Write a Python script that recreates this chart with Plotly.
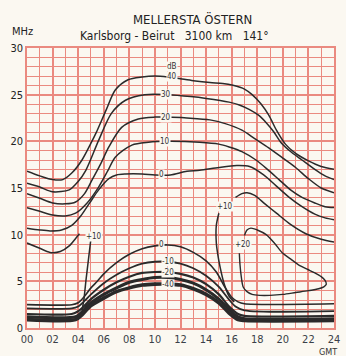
import plotly.graph_objects as go

# ---------------- data ----------------
x_tick_vals = [0, 2, 4, 6, 8, 10, 12, 14, 16, 18, 20, 22, 24]
x_tick_text = ["00", "02", "04", "06", "08", "10", "12", "14", "16", "18", "20", "22", "24"]
y_tick_vals = [0, 5, 10, 15, 20, 25, 30]
y_tick_text = ["0", "5", "10", "15", "20", "25", "30"]

# upper family (dB)
h_up40 = [0, 1, 2, 2.8, 3.5, 4.3, 5, 5.4, 6.2, 6.9, 7.9, 9, 10, 11, 12, 13, 14.3, 15.3, 16.1, 17, 17.6, 18.3, 18.9, 19.5, 20.2, 21, 22, 23, 24]
f_up40 = [16.8, 16.3, 15.9, 15.9, 16.6, 18.0, 19.8, 20.9, 23.4, 25.5, 26.6, 26.9, 27.0, 26.9, 26.7, 26.5, 26.3, 26.2, 26.0, 25.6, 25.0, 24.0, 22.8, 21.2, 19.7, 18.7, 17.9, 17.3, 17.0]

h_up30 = [0, 1, 2, 3.3, 4, 4.6, 5.6, 6.6, 7.7, 9.2, 11, 12.8, 14, 15.8, 16.6, 17.4, 18.1, 18.7, 19.3, 19.9, 20.7, 21.5, 22.5, 23.3, 24]
f_up30 = [15.5, 15.1, 14.6, 14.8, 15.7, 16.9, 20.1, 23.0, 24.4, 25.0, 25.0, 24.8, 24.6, 24.2, 23.9, 23.4, 22.8, 22.0, 21.0, 19.8, 18.8, 18.0, 17.0, 16.3, 15.9]

h_up20 = [0, 1, 2, 3, 3.8, 4.5, 5.1, 5.8, 6.4, 7.4, 8.7, 10, 11, 12.5, 14.3, 15.5, 16.8, 17.8, 18.9, 20, 21, 22, 23, 24]
f_up20 = [14.4, 13.9, 13.4, 13.3, 13.5, 14.4, 15.9, 17.7, 19.4, 21.5, 22.4, 22.6, 22.6, 22.5, 22.3, 21.9, 21.2, 20.3, 19.3, 18.2, 17.2, 16.0, 15.0, 14.5]

h_up10 = [0, 1, 2, 3, 3.8, 4.7, 5.6, 6.3, 6.9, 8.2, 9.5, 11, 13.5, 15, 15.8, 16.8, 17.9, 18.8, 19.7, 20.6, 21.5, 22.5, 23.3, 24]
f_up10 = [12.9, 12.5, 12.1, 12.0, 12.3, 13.4, 15.1, 16.8, 18.3, 19.6, 19.9, 20.0, 19.9, 19.7, 19.4, 18.9, 18.0, 17.0, 15.9, 14.8, 14.0, 13.4, 13.0, 12.9]

h_up0 = [0, 1, 1.8, 2.7, 3.5, 4.2, 4.9, 5.6, 6.4, 7.0, 7.7, 9, 10, 11.2, 12.5, 13.5, 15, 16.4, 17.4, 18.5, 19.5, 20.5, 21.5, 22.5, 23.3, 24]
f_up0 = [10.7, 10.5, 10.4, 10.5, 11.0, 12.0, 13.4, 14.8, 16.0, 16.4, 16.5, 16.5, 16.4, 16.4, 16.8, 16.9, 17.2, 17.4, 17.3, 16.4, 15.2, 14.0, 13.0, 12.2, 11.8, 11.6]

# +10 contour (pieces)
h_p10_a = [0, 0.9, 1.8, 2.6, 3.3, 3.8, 4.1]
f_p10_a = [9.1, 8.6, 8.1, 8.2, 8.8, 9.6, 10.1]
h_p10_b = [5.0, 4.8, 4.6, 4.45, 4.3]
f_p10_b = [9.6, 7.5, 5.0, 3.0, 1.9]
h_p10_c = [16.2, 15.8, 15.4, 15.1, 14.9, 14.8, 14.8, 15.0]
f_p10_c = [2.8, 3.4, 4.8, 6.5, 8.0, 9.1, 11.0, 12.3]
h_p10_d = [16.3, 16.8, 17.2, 17.8, 18.6, 19.5, 20.6, 21.8, 23, 24]
f_p10_d = [14.0, 14.4, 14.5, 14.2, 13.3, 12.3, 11.1, 10.1, 9.5, 9.2]

# +20 loop
h_p20 = [17.0, 17.2, 17.5, 18.0, 18.7, 19.4, 20.0, 20.6, 21.2, 21.9, 22.5, 23.0, 23.3, 23.4, 23.2, 22.8, 22.0, 21.0, 20.0, 19.0, 18.2, 17.6, 17.2, 16.9, 16.75, 16.65, 16.6]
f_p20 = [9.9, 10.5, 10.7, 10.5, 10.0, 9.0, 8.0, 7.4, 6.8, 6.3, 5.9, 5.5, 5.1, 4.7, 4.4, 4.2, 4.0, 3.8, 3.6, 3.5, 3.5, 3.6, 3.9, 4.4, 5.5, 6.8, 8.0]

# lower family
h_lo0 = [0, 3.5, 4.0, 4.5, 5, 5.5, 6, 7, 8, 9, 10, 11, 12, 13, 14, 14.8, 15.5, 16, 16.5, 17, 24]
f_lo0 = [2.5, 2.5, 2.7, 3.4, 4.3, 5.0, 5.8, 7.0, 7.9, 8.5, 8.8, 8.9, 8.7, 8.1, 7.2, 6.0, 4.3, 3.3, 2.8, 2.6, 2.6]
h_lo10 = [0, 3.5, 4, 4.5, 5, 6, 7, 8, 9, 10, 11, 12, 13, 14, 15, 15.7, 16.3, 17, 24]
f_lo10 = [2.1, 2.1, 2.3, 2.9, 3.6, 4.8, 5.7, 6.4, 6.9, 7.1, 7.1, 6.9, 6.4, 5.6, 4.4, 3.2, 2.3, 1.9, 1.8]
h_lo20 = [0, 3.5, 4, 4.5, 5, 6, 7, 8, 9, 10, 11, 12, 13, 14, 15, 15.8, 16.5, 17, 24]
f_lo20 = [1.5, 1.5, 1.8, 2.4, 3.1, 4.1, 4.9, 5.5, 5.9, 6.0, 6.0, 5.8, 5.4, 4.7, 3.6, 2.3, 1.5, 1.3, 1.3]
h_lo30 = [0, 3.8, 4.2, 4.6, 5, 6, 7, 8, 9, 10, 11, 12, 13, 14, 15, 15.8, 16.5, 17, 24]
f_lo30 = [1.2, 1.2, 1.6, 2.2, 2.7, 3.6, 4.3, 4.9, 5.2, 5.4, 5.4, 5.2, 4.8, 4.1, 3.1, 2.0, 1.2, 1.0, 1.0]
h_lo40 = [0, 3.8, 4.3, 4.7, 5, 6, 7, 8, 9, 10, 11, 12, 13, 14, 15, 15.8, 16.5, 17, 24]
f_lo40 = [0.9, 0.9, 1.4, 2.0, 2.4, 3.2, 3.9, 4.3, 4.6, 4.7, 4.7, 4.6, 4.2, 3.6, 2.7, 1.6, 0.9, 0.8, 0.8]

# curve labels: text, hour, MHz
label_text = ["40", "30", "20", "10", "0", "0", "-10", "-20", "-40", "+10", "+10", "+20"]
label_h = [11.3, 10.85, 10.85, 10.8, 10.5, 10.5, 11.0, 11.0, 11.0, 5.2, 15.45, 16.9]
label_f = [26.9, 25.0, 22.6, 19.95, 16.4, 8.9, 7.1, 6.0, 4.7, 9.8, 13.05, 8.9]

# ---------------- figure ----------------
BG = "#fbf8f1"
GRID = "#ea8a80"
INK = "#2a2a2a"
FONT = "DejaVu Sans Condensed, Liberation Sans Narrow, Arial Narrow, sans-serif"

fig = go.Figure()

def add_curve(h, f, width=1.5, shape="spline"):
    fig.add_trace(go.Scatter(x=h, y=f, mode="lines",
                             line=dict(color=INK, width=width, shape=shape, smoothing=0.8),
                             hoverinfo="skip", showlegend=False))

for h, f in [(h_up40, f_up40), (h_up30, f_up30), (h_up20, f_up20), (h_up10, f_up10), (h_up0, f_up0)]:
    add_curve(h, f)
add_curve(h_p10_a, f_p10_a)
add_curve(h_p10_b, f_p10_b, shape="linear")
add_curve(h_p10_c, f_p10_c)
add_curve(h_p10_d, f_p10_d)
add_curve(h_p20, f_p20, width=1.4)
add_curve(h_lo0, f_lo0, width=1.6)
add_curve(h_lo10, f_lo10, width=1.8)
add_curve(h_lo20, f_lo20, width=2.2)
add_curve(h_lo30, f_lo30, width=3.0)
add_curve(h_lo40, f_lo40, width=3.6)

for t, hx, fy in zip(label_text, label_h, label_f):
    fig.add_annotation(x=hx, y=fy, text=t, showarrow=False,
                       font=dict(family=FONT, size=8, color="#333"),
                       bgcolor=BG, borderpad=0)

fig.add_annotation(x=11.3, y=28.0, text="dB", showarrow=False,
                   font=dict(family=FONT, size=8, color="#333"), bgcolor=BG, borderpad=0)

fig.add_annotation(xref="paper", yref="paper", x=0.54, y=1.0, yshift=39,
                   text="MELLERSTA ÖSTERN", showarrow=False,
                   font=dict(family=FONT, size=13, color="#222"))
fig.add_annotation(xref="paper", yref="paper", x=0.48, y=1.0, yshift=21,
                   text="Karlsborg - Beirut   3100 km   141°", showarrow=False,
                   font=dict(family=FONT, size=12, color="#222"))
fig.add_annotation(xref="paper", yref="paper", x=0.0, y=1.0, xshift=-5, yshift=25,
                   text="MHz", showarrow=False, xanchor="center",
                   font=dict(family=FONT, size=11, color="#222"))
fig.add_annotation(xref="paper", yref="paper", x=1.0, y=0.0, xshift=-17, yshift=-31,
                   text="GMT", showarrow=False, xanchor="left",
                   font=dict(family=FONT, size=9, color="#333"))

fig.update_layout(
    width=346, height=356,
    margin=dict(l=27, r=6, t=48, b=28),
    paper_bgcolor=BG, plot_bgcolor=BG,
    xaxis=dict(range=[0, 24], tickvals=x_tick_vals, ticktext=x_tick_text,
               showgrid=True, gridcolor=GRID, gridwidth=1.5,
               minor=dict(dtick=1, showgrid=True, gridcolor=GRID, gridwidth=1),
               showline=True, mirror=True, linecolor=GRID, linewidth=1.5,
               zeroline=False, ticks="", ticklen=0,
               tickfont=dict(family=FONT, size=11, color="#3a3f48")),
    yaxis=dict(range=[0, 30], tickvals=y_tick_vals, ticktext=y_tick_text,
               showgrid=True, gridcolor=GRID, gridwidth=1.5,
               minor=dict(dtick=1, showgrid=True, gridcolor=GRID, gridwidth=1),
               showline=True, mirror=True, linecolor=GRID, linewidth=1.5,
               zeroline=False, ticks="", ticklen=0,
               tickfont=dict(family=FONT, size=11, color="#222")),
)

fig.write_html("out.html")
